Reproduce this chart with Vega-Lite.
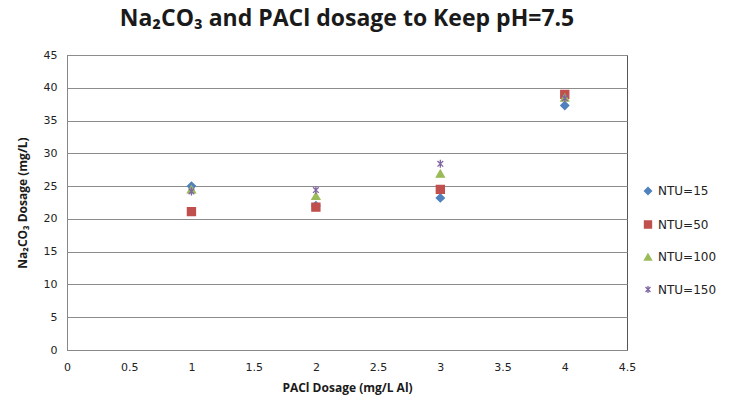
{
  "$schema": "https://vega.github.io/schema/vega-lite/v6.json",
  "width": 560,
  "height": 295,
  "autosize": {"type": "none"},
  "padding": {"left": 67, "top": 55, "right": 107, "bottom": 56},
  "background": "white",
  "title": {
    "text": "Na₂CO₃ and PACl dosage to Keep pH=7.5",
    "font": "Open Sans",
    "fontSize": 23,
    "fontWeight": "bold",
    "color": "#1a1a1a",
    "anchor": "middle",
    "frame": "group",
    "offset": 18
  },
  "config": {
    "view": {"stroke": "#555555", "strokeWidth": 1},
    "axis": {
      "labelFont": "DejaVu Sans",
      "labelFontSize": 11,
      "labelColor": "#222222",
      "titleFont": "Open Sans",
      "titleFontSize": 12,
      "titleFontWeight": "bold",
      "titleColor": "#1a1a1a",
      "ticks": false,
      "labelFlush": false,
      "domainColor": "#888888"
    },
    "legend": {
      "orient": "none",
      "legendX": 575,
      "legendY": 130,
      "title": null,
      "labelFont": "DejaVu Sans",
      "labelFontSize": 12,
      "labelColor": "#222222",
      "rowPadding": 19.5,
      "symbolSize": 50,
      "symbolStrokeWidth": 1.3,
      "labelOffset": 4
    }
  },
  "data": {
    "values": [
      {"x": 1, "y": 25.0, "series": "NTU=15"},
      {"x": 2, "y": 22.0, "series": "NTU=15"},
      {"x": 3, "y": 23.2, "series": "NTU=15"},
      {"x": 4, "y": 37.3, "series": "NTU=15"},
      {"x": 1, "y": 21.1, "series": "NTU=50"},
      {"x": 2, "y": 21.8, "series": "NTU=50"},
      {"x": 3, "y": 24.5, "series": "NTU=50"},
      {"x": 4, "y": 39.0, "series": "NTU=50"},
      {"x": 1, "y": 24.5, "series": "NTU=100"},
      {"x": 2, "y": 23.5, "series": "NTU=100"},
      {"x": 3, "y": 26.9, "series": "NTU=100"},
      {"x": 4, "y": 38.5, "series": "NTU=100"},
      {"x": 1, "y": 24.2, "series": "NTU=150"},
      {"x": 2, "y": 24.4, "series": "NTU=150"},
      {"x": 3, "y": 28.4, "series": "NTU=150"},
      {"x": 4, "y": 38.4, "series": "NTU=150"}
    ]
  },
  "mark": {"type": "point", "size": 65, "strokeWidth": 1.3, "opacity": 1},
  "encoding": {
    "x": {
      "field": "x",
      "type": "quantitative",
      "scale": {"domain": [0, 4.5], "nice": false},
      "axis": {
        "values": [0, 0.5, 1, 1.5, 2, 2.5, 3, 3.5, 4, 4.5],
        "format": "~g",
        "grid": false,
        "labelPadding": 11,
        "title": "PACl Dosage (mg/L Al)",
        "titlePadding": 10
      }
    },
    "y": {
      "field": "y",
      "type": "quantitative",
      "scale": {"domain": [0, 45], "nice": false},
      "axis": {
        "values": [0, 5, 10, 15, 20, 25, 30, 35, 40, 45],
        "grid": true,
        "gridColor": "#8c8c8c",
        "gridWidth": 1,
        "labelPadding": 10,
        "title": "Na₂CO₃ Dosage (mg/L)",
        "titlePadding": 14
      }
    },
    "shape": {
      "field": "series",
      "type": "nominal",
      "title": null,
      "scale": {
        "domain": ["NTU=15", "NTU=50", "NTU=100", "NTU=150"],
        "range": ["diamond", "square", "triangle-up", "M-0.7,-0.7L0.7,0.7M-0.7,0.7L0.7,-0.7M0,-1L0,1"]
      }
    },
    "stroke": {
      "field": "series",
      "type": "nominal",
      "title": null,
      "scale": {
        "domain": ["NTU=15", "NTU=50", "NTU=100", "NTU=150"],
        "range": ["#4F81BD", "#C0504D", "#9BBB59", "#8064A2"]
      }
    },
    "fill": {
      "field": "series",
      "type": "nominal",
      "title": null,
      "scale": {
        "domain": ["NTU=15", "NTU=50", "NTU=100", "NTU=150"],
        "range": ["#4F81BD", "#C0504D", "#9BBB59", "transparent"]
      }
    }
  }
}
